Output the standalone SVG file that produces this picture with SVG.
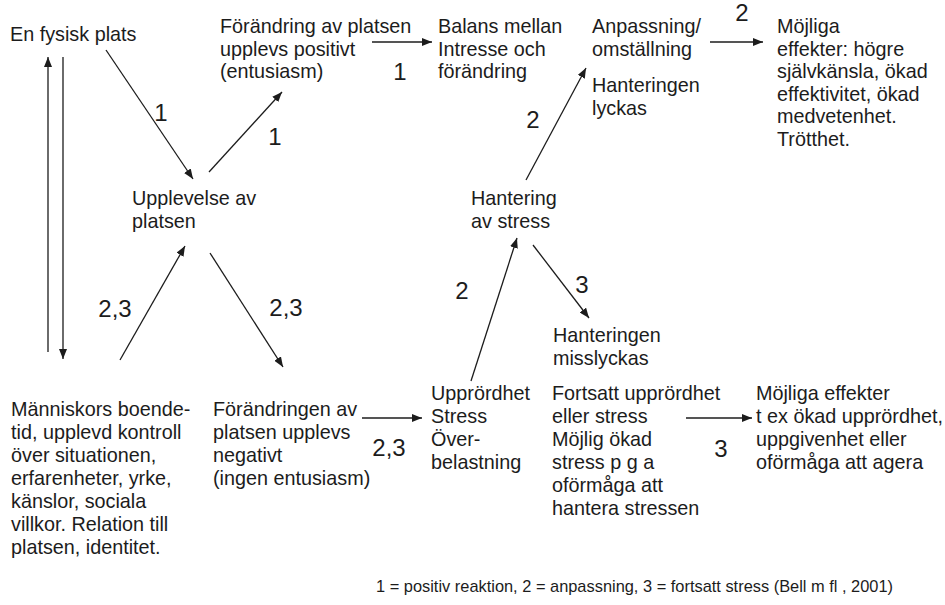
<svg xmlns="http://www.w3.org/2000/svg" width="945" height="605" viewBox="0 0 945 605">
<defs>
<style>
text{font-family:"Liberation Sans",Arial,Helvetica,sans-serif;fill:#1c1c1c}
.t{font-size:19.8px}
.n{font-size:24px;text-anchor:middle}
.f{font-size:16.4px}
.c line{stroke:#1c1c1c;stroke-width:1.3;fill:none;marker-end:url(#ah)}
</style>
<marker id="ah" viewBox="0 0 10 8" refX="10" refY="4" markerWidth="10" markerHeight="8" markerUnits="userSpaceOnUse" orient="auto">
<path d="M0,0 L10,4 L0,8 Z" fill="#1c1c1c"/>
</marker>
</defs>
<rect width="945" height="605" fill="#ffffff"/>

<g id="node-fysisk-plats"><text class="t" x="10" y="41">En fysisk plats</text></g>
<g id="node-forandring-positiv"><text class="t" x="220" y="33">Förändring av platsen</text><text class="t" x="220" y="55.5">upplevs positivt</text><text class="t" x="220" y="78">(entusiasm)</text></g>
<g id="node-balans"><text class="t" x="438" y="33">Balans mellan</text><text class="t" x="438" y="55.5">Intresse och</text><text class="t" x="438" y="78">förändring</text></g>
<g id="node-anpassning"><text class="t" x="592" y="33">Anpassning/</text><text class="t" x="592" y="55.5">omställning</text><text class="t" x="592" y="92">Hanteringen</text><text class="t" x="592" y="114.5">lyckas</text></g>
<g id="node-mojliga-positiva"><text class="t" x="777" y="33">Möjliga</text><text class="t" x="777" y="55.5">effekter: högre</text><text class="t" x="777" y="78">självkänsla, ökad</text><text class="t" x="777" y="100.5">effektivitet, ökad</text><text class="t" x="777" y="123">medvetenhet.</text><text class="t" x="777" y="145.5">Trötthet.</text></g>
<g id="node-upplevelse"><text class="t" x="132" y="205">Upplevelse av</text><text class="t" x="132" y="228">platsen</text></g>
<g id="node-hantering"><text class="t" x="471" y="205">Hantering</text><text class="t" x="471" y="228">av stress</text></g>
<g id="node-misslyckas"><text class="t" x="553" y="342">Hanteringen</text><text class="t" x="553" y="365">misslyckas</text></g>
<g id="node-manniskor"><text class="t" x="11" y="416">Människors boende-</text><text class="t" x="11" y="439">tid, upplevd kontroll</text><text class="t" x="11" y="462">över situationen,</text><text class="t" x="11" y="485">erfarenheter, yrke,</text><text class="t" x="11" y="508">känslor, sociala</text><text class="t" x="11" y="531">villkor. Relation till</text><text class="t" x="11" y="554">platsen, identitet.</text></g>
<g id="node-forandring-negativ"><text class="t" x="213" y="416">Förändringen av</text><text class="t" x="213" y="439">platsen upplevs</text><text class="t" x="213" y="462">negativt</text><text class="t" x="213" y="485">(ingen entusiasm)</text></g>
<g id="node-upprordhet"><text class="t" x="431" y="400">Upprördhet</text><text class="t" x="431" y="423">Stress</text><text class="t" x="431" y="446">Över-</text><text class="t" x="431" y="469">belastning</text></g>
<g id="node-fortsatt"><text class="t" x="552" y="400">Fortsatt upprördhet</text><text class="t" x="552" y="423">eller stress</text><text class="t" x="552" y="446">Möjlig ökad</text><text class="t" x="552" y="469">stress p g a</text><text class="t" x="552" y="492">oförmåga att</text><text class="t" x="552" y="515">hantera stressen</text></g>
<g id="node-mojliga-negativa"><text class="t" x="756" y="400">Möjliga effekter</text><text class="t" x="756" y="423">t ex ökad upprördhet,</text><text class="t" x="756" y="446">uppgivenhet eller</text><text class="t" x="756" y="469">oförmåga att agera</text></g>

<g id="connectors" class="c">
<line x1="106" y1="50" x2="193" y2="179"/>
<line x1="209" y1="172" x2="282" y2="92"/>
<line x1="372" y1="42" x2="432" y2="42"/>
<line x1="710" y1="42" x2="763" y2="42"/>
<line x1="526" y1="180" x2="586" y2="68"/>
<line x1="48" y1="352" x2="48" y2="57"/>
<line x1="63" y1="57" x2="63" y2="359"/>
<line x1="120" y1="360" x2="185" y2="246"/>
<line x1="210" y1="253" x2="283" y2="367"/>
<line x1="362" y1="418" x2="422" y2="418"/>
<line x1="471" y1="381" x2="517" y2="238"/>
<line x1="533" y1="245" x2="589" y2="318"/>
<line x1="686" y1="418" x2="752" y2="418"/>
</g>

<g id="labels">
<text class="n" x="161" y="121">1</text>
<text class="n" x="275" y="145">1</text>
<text class="n" x="400" y="80">1</text>
<text class="n" x="742" y="21">2</text>
<text class="n" x="533" y="128">2</text>
<text class="n" x="115" y="317">2,3</text>
<text class="n" x="286" y="316">2,3</text>
<text class="n" x="389" y="456">2,3</text>
<text class="n" x="462" y="299">2</text>
<text class="n" x="582" y="293">3</text>
<text class="n" x="721" y="457">3</text>
</g>

<g id="footnote"><text class="f" x="376" y="592">1 = positiv reaktion, 2 = anpassning, 3 = fortsatt stress (Bell m fl , 2001)</text></g>
</svg>
